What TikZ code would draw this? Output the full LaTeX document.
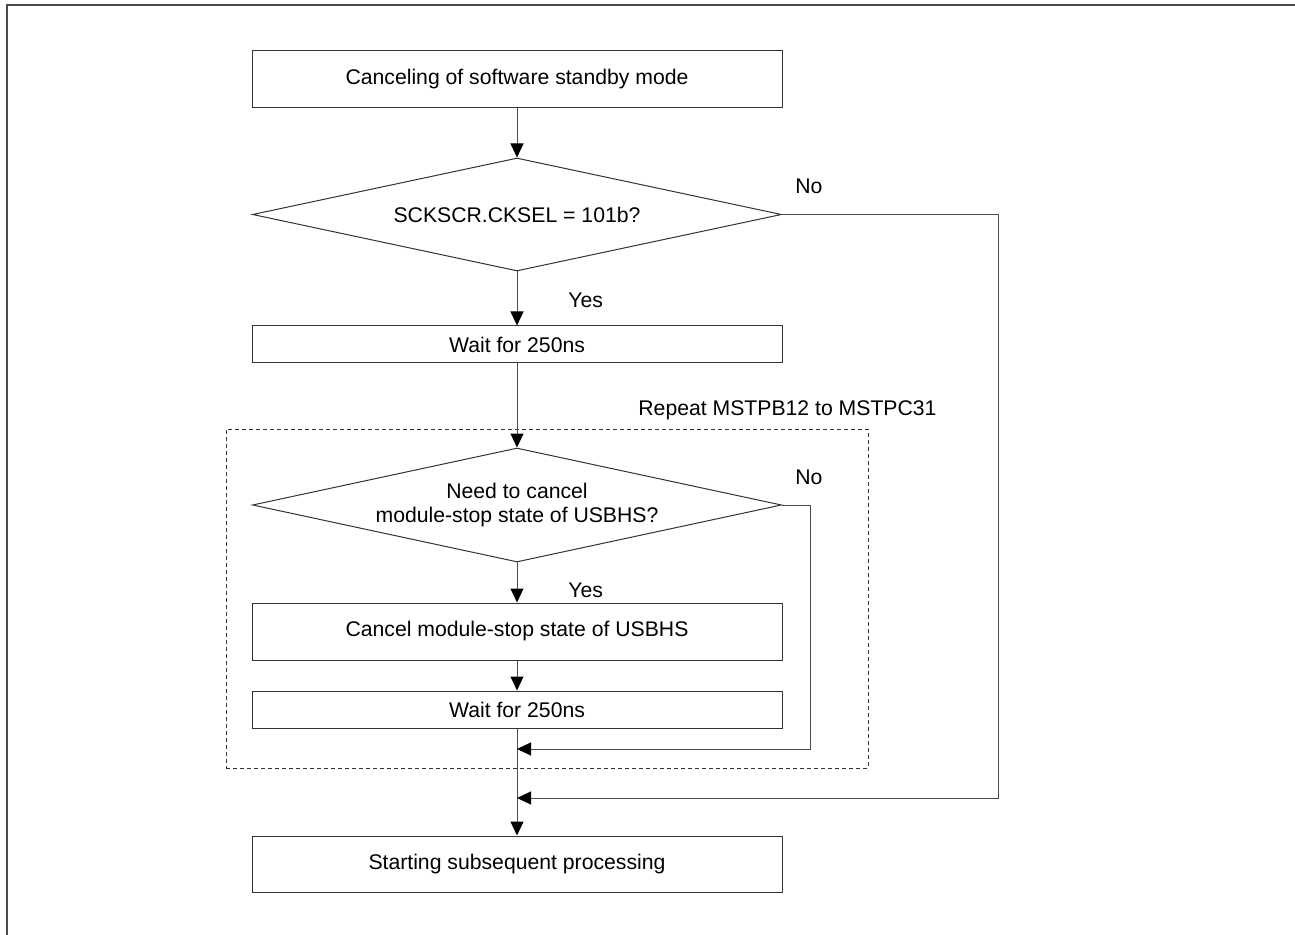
\documentclass[tikz,border=0pt]{standalone}
\usepackage{fontspec}
\setmainfont{Liberation Sans}
\usetikzlibrary{shapes.geometric,arrows.meta}

\begin{document}
\begin{tikzpicture}[x=0.5pt,y=-0.5pt]

\tikzset{
  flow text/.style={font=\fontsize{10.6}{12}\selectfont},
  flow box/.style={
    flow text,
    draw=black!80,
    line width=0.5pt,
    inner sep=0pt,
    minimum width=265pt,
  },
  flow test/.style={
    flow text,
    draw=black!80,
    line width=0.5pt,
    diamond,
    aspect=4.7,
    inner sep=0pt,
    align=center,
    minimum width=264.5pt,
    minimum height=56.5pt,
  },
  flow label/.style={flow text, anchor=west, inner sep=0pt},
  flow line/.style={draw=black!70, line width=0.5pt},
  flow arrow/.style={flow line, -{Triangle[length=7pt,width=6.5pt,color=black]}},
}

\useasboundingbox (0,0) rectangle (1295,935);

% Outer frame
\draw[line width=1pt, black!70] (1295,5) -- (6.5,5) -- (6.5,935);

% Main steps
\node[flow box, minimum height=28.5pt] (start) at (517,79.5) {Canceling of software standby mode};
\node[flow test] (cksel) at (517,214.5) {SCKSCR.CKSEL = 101b?};
\node[flow box, minimum height=18.5pt] (wait1) at (517,344.5) {Wait for 250ns};

% Repeated part
\node[draw=black!80, line width=0.5pt, dash pattern=on 2pt off 1.5pt,
      minimum width=321pt, minimum height=169.5pt, inner sep=0pt] (loop) at (547,598.5) {};
\node[flow label] (repeat) at (638,410) {Repeat MSTPB12 to MSTPC31};
\node[flow test, minimum height=57pt] (need) at (517,505) {Need to cancel\\module-stop state of USBHS?};
\node[flow box, minimum height=28.5pt] (cancel) at (517,631.5) {Cancel module-stop state of USBHS};
\node[flow box, minimum height=18.5pt] (wait2) at (517,709.5) {Wait for 250ns};

% Last step
\node[flow box, minimum height=28pt] (next) at (517,864) {Starting subsequent processing};

% Yes / No labels
\node[flow label] (no1) at (795,186) {No};
\node[flow label] (yes1) at (568,300) {Yes};
\node[flow label] (no2) at (795,477) {No};
\node[flow label] (yes2) at (568,590) {Yes};

% Corners and joins of the skip lines
\coordinate (turn1) at (998,798);
\coordinate (join1) at (517,798);
\coordinate (turn2) at (810,749);
\coordinate (join2) at (517,749);

% Edges
\draw[flow arrow] (start) -- (cksel);
\draw[flow arrow] (cksel) -- (wait1);
\draw[flow arrow] (wait1) -- (need);
\draw[flow arrow] (need) -- (cancel);
\draw[flow arrow] (cancel) -- (wait2);
\draw[flow arrow] (wait2) -- (next);

\draw[flow arrow] (need.east) -| (turn2) -- (join2);
\draw[flow arrow] (cksel.east) -| (turn1) -- (join1);

\end{tikzpicture}
\end{document}
